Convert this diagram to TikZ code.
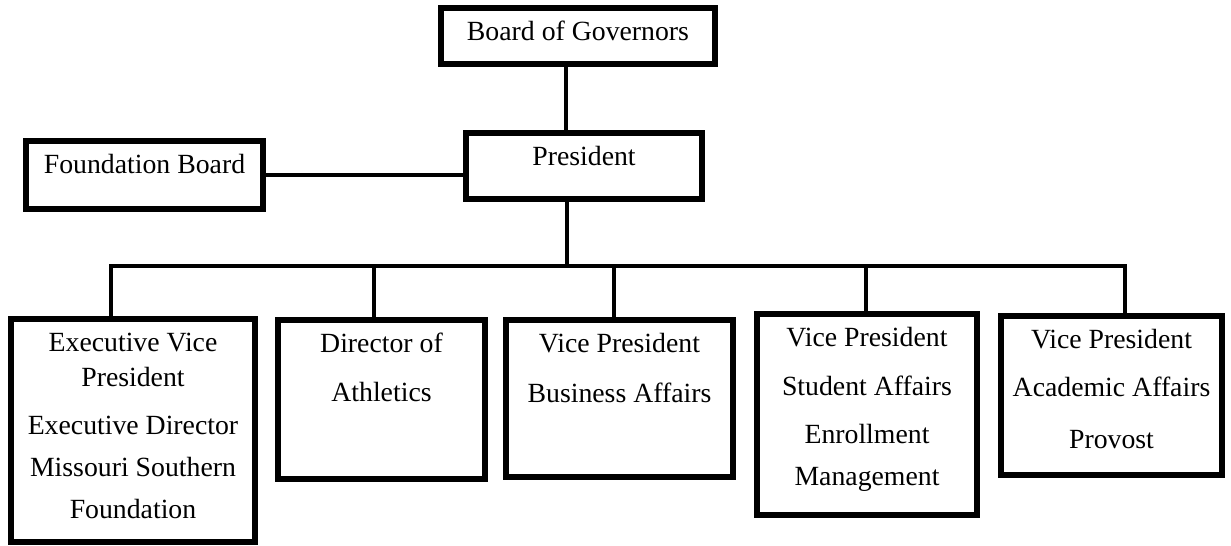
\documentclass[tikz,border=0pt]{standalone}
\usepackage{fontspec}
\setmainfont{Liberation Serif}
\usepackage{tikz}
\usetikzlibrary{calc}
\tikzset{
  unit/.style={%
    rectangle, draw, line width=3.2pt,
    inner xsep=0.1cm, inner ysep=0pt, outer sep=0pt,
    anchor=north, align=flush center, text height=0.66cm,
    font=\fontsize{15.8}{19.8}\selectfont
  },
  link/.style={line width=2.3pt},
}

\begin{document}
\begin{tikzpicture}
            \useasboundingbox (0,0) rectangle (24.62,10.92);
            \node[unit, text width=5.28cm, text depth=0.46cm] (board) at (11.56,10.76) {Board of Governors};
            \node[unit, text width=4.52cm, text depth=0.66cm] (pres) at (11.68,8.26) {President};
            \node[unit, text width=4.54cm, text depth=0.70cm] (found) at (2.89,8.10) {Foundation Board};
            % second row
            \node[unit, text width=4.68cm, text depth=3.80cm] (evp) at (2.66,4.54) {Executive Vice\\President\\[7.4pt]Executive Director\\[4pt]Missouri Southern\\[4pt]Foundation};
            \node[unit, text width=3.94cm, text depth=2.52cm] (ath) at (7.63,4.52) {Director of\\[8pt]Athletics};
            \node[unit, text width=4.34cm, text depth=2.48cm] (bus-aff) at (12.39,4.52) {Vice President\\[8.6pt]Business Affairs};
            \node[unit, text width=4.20cm, text depth=3.36cm] (stu) at (17.34,4.64) {Vice President\\[8pt]Student Affairs\\[7.4pt]Enrollment\\[4pt]Management};
            \node[unit, text width=4.22cm, text depth=2.52cm] (acad) at (22.23,4.60) {Vice President\\[7.4pt]Academic Affairs\\[9.7pt]Provost};
            \coordinate (bus) at (11.34,5.60);
            %lines
            \draw[link] ([xshift=-0.24cm]board.south) -- ([xshift=-0.24cm]board.south |- pres.north);
            \draw[link] (found.east) -- (found.east -| pres.west);
            \draw[link] ([xshift=-0.34cm]pres.south) -- (bus);
            \draw[link] ([xshift=-0.44cm]evp.north) |- (bus) -| ([xshift=0.27cm]acad.north);
            \draw[link] ([xshift=-0.15cm]ath.north) -- ([xshift=-0.15cm]ath.north |- bus);
            \draw[link] ([xshift=-0.11cm]bus-aff.north) -- ([xshift=-0.11cm]bus-aff.north |- bus);
            \draw[link] ([xshift=-0.02cm]stu.north) -- ([xshift=-0.02cm]stu.north |- bus);
        \end{tikzpicture}
\end{document}
